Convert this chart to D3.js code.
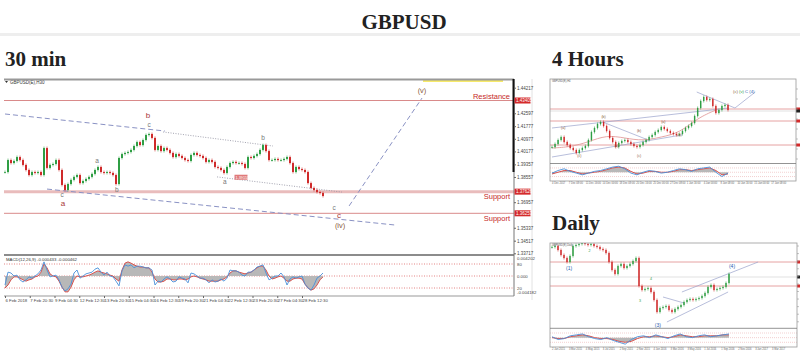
<!DOCTYPE html>
<html>
<head>
<meta charset="utf-8">
<script src="https://cdn.jsdelivr.net/npm/d3@7"></script>
<style>
  body { margin: 0; background: #fff; }
  svg { display: block; }
</style>
</head>
<body>
<div id="chart"></div>
<script>
// ---------- data ----------
var pageTitle = "GBPUSD";
var panelTitles = ["30 min", "4 Hours", "Daily"];

// 30 min chart: closing prices (one candle per sample, left to right)
var closes30 = [1.3887,1.3963,1.3944,1.3957,1.3982,1.3963,1.3932,1.3900,1.3868,1.3887,
  1.3881,1.3887,1.3868,1.4039,1.3913,1.3932,1.3938,1.3963,1.3900,1.3805,
  1.3773,1.3811,1.3837,1.3856,1.3868,1.3817,1.3830,1.3843,1.3856,1.3875,
  1.3900,1.3919,1.3887,1.3881,1.3887,1.3881,1.3868,1.3811,1.3976,1.4001,
  1.4008,1.4014,1.4027,1.4052,1.4077,1.4058,1.4090,1.4122,1.4128,1.4103,
  1.4027,1.4052,1.4020,1.4039,1.4027,1.4008,1.3982,1.4001,1.3989,1.3976,
  1.3963,1.3957,1.3995,1.4008,1.3995,1.3989,1.3976,1.3951,1.3963,1.3951,
  1.3919,1.3913,1.3900,1.3881,1.3919,1.3944,1.3951,1.3944,1.3944,1.3938,
  1.3913,1.3982,1.3976,1.3989,1.4001,1.4027,1.4058,1.4020,1.3963,1.3963,
  1.3970,1.3963,1.3963,1.3970,1.3982,1.3944,1.3887,1.3919,1.3906,1.3900,
  1.3887,1.3817,1.3786,1.3773,1.3760,1.3754,1.3735];

// 30 min MACD main line and signal line
var macd30 = [-0.0021,0.0009,0.0007,0,0.0002,-0.0009,-0.0014,-0.0009,-0.0002,-0.0005,
  0,0.0005,0.0014,0.0033,0.0014,-0.0002,0,0.0002,-0.0009,-0.0026,
  -0.0035,-0.0030,-0.0019,0.0007,0.0014,-0.0005,0,0.0005,0.0007,0.0009,
  0.0016,0.0019,0.0009,0.0002,0.0009,0,-0.0002,-0.0012,-0.0023,0.0012,
  0.0026,0.0023,0.0026,0.0019,0.0023,0.0023,0.0021,0.0019,0.0019,0.0014,
  -0.0021,-0.0012,-0.0014,-0.0007,-0.0002,-0.0007,-0.0014,-0.0012,-0.0002,-0.0005,
  -0.0007,-0.0016,0.0007,0.0005,0,-0.0005,-0.0005,-0.0009,-0.0016,-0.0009,
  -0.0014,-0.0012,-0.0007,-0.0012,-0.0005,0.0014,0.0012,0.0012,0.0009,0.0002,
  0,0.0009,0.0009,0.0014,0.0021,0.0023,0.0026,0.0007,-0.0009,-0.0005,
  0,0,0.0007,-0.0002,-0.0021,-0.0007,-0.0002,-0.0005,-0.0002,0,
  -0.0019,-0.0028,-0.0033,-0.0021,-0.0005,0,0.0007];
var signal30 = [-0.0028,-0.0021,-0.0009,-0.0002,-0.0002,-0.0005,-0.0009,-0.0012,-0.0009,-0.0007,
  -0.0002,0,0.0009,0.0028,0.0019,0.0005,0,-0.0002,-0.0012,-0.0026,
  -0.0037,-0.0037,-0.0026,-0.0009,0,-0.0002,-0.0002,0,0.0002,0.0005,
  0.0009,0.0012,0.0009,0.0007,0.0005,0.0002,0,-0.0007,-0.0012,0.0014,
  0.0030,0.0033,0.0030,0.0026,0.0023,0.0021,0.0021,0.0019,0.0019,0.0009,
  -0.0007,-0.0014,-0.0014,-0.0012,-0.0007,-0.0007,-0.0009,-0.0009,-0.0007,-0.0007,
  -0.0009,-0.0007,-0.0002,0,-0.0002,-0.0005,-0.0007,-0.0009,-0.0012,-0.0012,
  -0.0012,-0.0012,-0.0009,-0.0007,-0.0002,0.0007,0.0012,0.0012,0.0009,0.0007,
  0.0005,0.0007,0.0009,0.0014,0.0019,0.0023,0.0023,0.0014,0,-0.0007,
  -0.0005,-0.0002,0,-0.0005,-0.0012,-0.0012,-0.0007,-0.0005,-0.0005,-0.0007,
  -0.0019,-0.0028,-0.0033,-0.0030,-0.0021,-0.0009,-0.0002];

var priceTicks30 = [1.44217,1.42597,1.41777,1.40977,1.40177,1.39357,1.38557,1.36957,1.35337,1.34517,1.33717];
var levels30 = [1.43405, 1.37626, 1.36253];
var levelNames30 = ["Resistance", "Support", "Support"];
var macdTicks30 = ["0.004202", "80", "0.000", "20", "-0.004182"];
var macdTickValues30 = [0.0042, 0.0028, 0, -0.0028, -0.0038];
var timeLabels30 = ["6 Feb 2018","7 Feb 20:30","9 Feb 04:30","12 Feb 12:30","13 Feb 20:30",
  "15 Feb 04:30","16 Feb 12:30","19 Feb 20:30","21 Feb 04:30","22 Feb 12:30",
  "23 Feb 20:30","27 Feb 04:30","28 Feb 12:30"];
var candlesPerLabel30 = 8.25;

// wave lines on 30 min chart: [candle index, price]
var channelUpper30 = [[0, 1.4255], [53.3, 1.4147]];
var channelLower30 = [[14, 1.3779], [130, 1.3551]];
var dottedUpper30 = [[52.7, 1.4141], [89.3, 1.4052]];
var dottedLower30 = [[70.7, 1.3856], [112.3, 1.3760]];
var projection30 = [[114.7, 1.3672], [139, 1.4356]];

// wave labels: [candle index, price, text]
var majorLabels30 = [[47.7, 1.4245, "b"], [19.3, 1.3685, "a"], [111.3, 1.3612, "c"]];
var minorLabels30 = [[48, 1.4188, "c"], [30.7, 1.3957, "a"], [37.3, 1.3773, "b"], [19, 1.3742, "c"],
  [86, 1.4103, "b"], [73.3, 1.3824, "a"], [109.7, 1.3662, "c"]];
var degreeLabels30 = [[139, 1.4407, "(v)"], [111.7, 1.3548, "(iv)"]];
var priceTag30 = [76.5, 1.3854, "1.39153"];

// 4 hour chart
var closes4h = [1.352,1.355,1.359,1.362,1.357,1.354,1.351,1.349,1.346,1.349,
  1.351,1.353,1.359,1.367,1.371,1.375,1.377,1.373,1.368,1.361,
  1.357,1.352,1.356,1.358,1.359,1.357,1.355,1.353,1.352,1.354,
  1.357,1.359,1.362,1.364,1.367,1.369,1.372,1.370,1.368,1.366,
  1.365,1.364,1.365,1.368,1.371,1.373,1.376,1.383,1.391,1.398,
  1.402,1.399,1.400,1.393,1.386,1.389,1.393,1.394,1.389];
var ma4h = [1.351,1.352,1.357,1.364,1.361,1.358,1.362,1.366,1.381,1.389]; // every 6th candle
var macd4h = [-0.001,0.002,0.004,0.001,-0.001,-0.003,-0.001,0.001,0.002,0.004,0.006,0.007,0.004,-0.001,-0.003,
  0,0.002,0.001,-0.001,0,0.002,0.004,0.003,0.001,0.004,0.005,0.006,0,-0.005,-0.001];
var signal4h = [-0.002,0,0.002,0.002,0,-0.002,-0.001,0,0.001,0.003,0.005,0.006,0.005,0.001,-0.002,
  -0.001,0.001,0.001,0,0,0.001,0.003,0.003,0.002,0.003,0.004,0.005,0.002,-0.003,-0.002];
var levels4h = [1.390, 1.378, 1.354];
var lines4h = [[[0, 1.371], [58.3, 1.391]], [[0, 1.342], [42.7, 1.364]], [[16.7, 1.377], [31.7, 1.359]],
  [[47.7, 1.407], [60.3, 1.391]], [[60.3, 1.391], [67, 1.407]]];
var labels4h = [[3.7, 1.370, "(a)"], [17, 1.381, "(b)"], [9, 1.342, "(c)"], [21.3, 1.352, "(a)"],
  [28.7, 1.367, "(b)"], [28.7, 1.342, "(c)"], [36.7, 1.376, "(a)"], [42, 1.363, "(b)"]];
var timeLabels4h = ["4 Dec 2017","7 Dec 08:00","11 Dec 16:00","14 Dec 00:00","18 Dec 08:00","20 Dec 16:00",
  "25 Dec 00:00","27 Dec 08:00","1 Jan 16:00","4 Jan 00:00","8 Jan 08:00","10 Jan 16:00","15 Jan 00:00","17 Jan 08:00"];

// daily chart
var closesD = [1.6936,1.7002,1.6738,1.6408,1.6210,1.5946,1.6342,1.7002,1.7068,1.7134,
  1.7200,1.7134,1.7068,1.7134,1.7002,1.6936,1.6804,1.6738,1.6540,1.5946,
  1.5418,1.5154,1.5682,1.5814,1.5550,1.5682,1.5814,1.6012,1.6210,1.4362,
  1.4098,1.4164,1.4230,1.3966,1.3438,1.2646,1.2910,1.2976,1.3042,1.2778,
  1.2646,1.2844,1.2976,1.3108,1.3306,1.3438,1.3504,1.3438,1.3504,1.3570,
  1.3702,1.3900,1.4296,1.4428,1.4098,1.4164,1.4230,1.4296,1.4560,1.5154];
var macdD = [0.001,-0.002,-0.001,0.002,0.003,0.004,0.001,-0.001,-0.002,0,-0.003,-0.005,-0.007,-0.002,0.001,
  0.002,0,0.003,0.001,-0.001,0.002,0.004,0.001,0,0.002,0.003,0.001,0.002,0.003,0.004];
var signalD = [0,-0.001,-0.001,0.001,0.002,0.003,0.002,0,-0.001,-0.001,-0.002,-0.004,-0.005,-0.004,-0.001,
  0.001,0.001,0.002,0.001,0,0.001,0.003,0.002,0.001,0.001,0.002,0.002,0.002,0.003,0.003];
var levelsD = [1.5946, 1.4362];
var linesD = [[[43.3, 1.3966], [68.7, 1.5946]], [[38.3, 1.1986], [58.7, 1.3966]], [[37, 1.3636], [44, 1.3240]]];
var labelsD = [[5.7, 1.5418, "(1)"], [35.3, 1.1656, "(3)"], [60, 1.5550, "(4)"]];
var smallLabelsD = [[33, 1.4758, "4"], [29.3, 1.3306, "3"], [12.5, 1.6600, "2"]];
var timeLabelsD = ["2 Jan 2015","3 Mar 2015","4 May 2015","3 Jul 2015","2 Sep 2015","2 Nov 2015","4 Jan 2016",
  "3 Mar 2016","3 May 2016","1 Jul 2016","1 Sep 2016","2 Nov 2016","3 Jan 2017","3 Mar 2017"];

// ---------- page ----------
var svg = d3.select("#chart")
  .append("svg")
    .attr("width", 800)
    .attr("height", 355)
    .style("font-family", "'Liberation Sans', Arial, sans-serif");

var serif = "'Liberation Serif', 'Times New Roman', serif";

svg.append("rect").attr("x", 0).attr("y", 33).attr("width", 800).attr("height", 3).attr("fill", "#eeeeee");
svg.append("text").attr("x", 404).attr("y", 29).attr("text-anchor", "middle")
  .style("font-family", serif).style("font-weight", "bold").style("font-size", "21px").attr("fill", "#222")
  .text(pageTitle);
[[5, 66], [552, 66], [552, 230]].forEach(function(p, i) {
  svg.append("text").attr("x", p[0]).attr("y", p[1])
    .style("font-family", serif).style("font-weight", "bold").style("font-size", "21px").attr("fill", "#222")
    .text(panelTitles[i]);
});

// draws simple candles: open = previous close
function drawCandles(g, data, x, y, bw) {
  g.selectAll(null).data(data).enter().append("g").each(function(c, i) {
    var o = i > 0 ? data[i - 1] : c;
    var hi = Math.max(o, c), lo = Math.min(o, c);
    var col = c >= o ? "#2f9e44" : "#cf2a2a";
    var s = d3.select(this);
    s.append("line")
      .attr("x1", x(i)).attr("x2", x(i))
      .attr("y1", y(hi) - 1.5).attr("y2", y(lo) + 1.5)
      .attr("stroke", col).attr("stroke-width", 0.6);
    s.append("rect")
      .attr("x", x(i) - bw / 2).attr("width", bw)
      .attr("y", y(hi)).attr("height", Math.max(0.8, y(lo) - y(hi)))
      .attr("fill", col);
  });
}

function drawSegment(g, pts, x, y, color, dash, w) {
  g.append("line")
    .attr("x1", x(pts[0][0])).attr("y1", y(pts[0][1]))
    .attr("x2", x(pts[1][0])).attr("y2", y(pts[1][1]))
    .attr("stroke", color).attr("stroke-width", w || 1)
    .attr("stroke-dasharray", dash);
}

function drawMacd(g, main, signal, x, y, fillArea) {
  if (fillArea) {
    g.append("path").datum(signal)
      .attr("fill", "#b8b8b8")
      .attr("d", d3.area().x(function(d, i) { return x(i); }).y0(y(0)).y1(function(d) { return y(d); }));
  }
  g.append("path").datum(signal)
    .attr("fill", "none").attr("stroke", "#d9534f").attr("stroke-width", 1)
    .attr("d", d3.line().x(function(d, i) { return x(i); }).y(function(d) { return y(d); }));
  g.append("path").datum(main)
    .attr("fill", "none").attr("stroke", "#4a90d9").attr("stroke-width", 0.9)
    .attr("d", d3.line().x(function(d, i) { return x(i); }).y(function(d) { return y(d); }));
}

// ---------- 30 min chart ----------
var x30 = d3.scaleLinear().domain([0, 106]).range([5, 323]);
var y30 = d3.scaleLinear().domain([1.44217, 1.33717]).range([87.7, 253.3]);
var m30 = d3.scaleLinear().domain([0.0042, -0.0042]).range([258, 294]);

svg.append("clipPath").attr("id", "clip30")
  .append("rect").attr("x", 4).attr("y", 80).attr("width", 510).attr("height", 174);
var g30 = svg.append("g").attr("clip-path", "url(#clip30)");

// horizontal levels
var levelColors = ["#d98a8a", "#e9bcbc", "#d98a8a"];
var levelWidths = [1, 3, 1];
levels30.forEach(function(l, i) {
  g30.append("line").attr("x1", 4).attr("x2", 514).attr("y1", y30(l)).attr("y2", y30(l))
    .attr("stroke", levelColors[i]).attr("stroke-width", levelWidths[i]);
  svg.append("text").attr("x", 510).attr("y", i === 0 ? y30(l) - 2 : y30(l) + 7.5)
    .attr("text-anchor", "end").style("font-size", "7.5px").attr("fill", "#c62828")
    .text(levelNames30[i]);
});

// wave lines
drawSegment(g30, channelUpper30, x30, y30, "#8a92c4", "5,3", 1);
drawSegment(g30, channelLower30, x30, y30, "#8a92c4", "5,3", 1);
drawSegment(g30, dottedUpper30, x30, y30, "#8c8c9c", "1,1.5", 0.8);
drawSegment(g30, dottedLower30, x30, y30, "#8c8c9c", "1,1.5", 0.8);
drawSegment(g30, projection30, x30, y30, "#8a92c4", "5,3", 1);

drawCandles(g30, closes30, x30, y30, 2);

// price tag on chart
g30.append("rect").attr("x", x30(priceTag30[0])).attr("y", y30(priceTag30[1]) - 2.5)
  .attr("width", 13).attr("height", 5).attr("fill", "#e07a7a");
g30.append("text").attr("x", x30(priceTag30[0]) + 1).attr("y", y30(priceTag30[1]) + 1.5)
  .style("font-size", "3.8px").attr("fill", "#fff").text(priceTag30[2]);

// wave labels
majorLabels30.forEach(function(d) {
  svg.append("text").attr("x", x30(d[0])).attr("y", y30(d[1]) + 2.5).attr("text-anchor", "middle")
    .style("font-size", "8px").attr("fill", "#a83a3a").text(d[2]);
});
minorLabels30.forEach(function(d) {
  svg.append("text").attr("x", x30(d[0])).attr("y", y30(d[1]) + 2).attr("text-anchor", "middle")
    .style("font-size", "6.5px").attr("fill", "#777").text(d[2]);
});
degreeLabels30.forEach(function(d) {
  svg.append("text").attr("x", x30(d[0])).attr("y", y30(d[1]) + 3).attr("text-anchor", "middle")
    .style("font-size", "7.5px").attr("fill", "#8a5a3a").text(d[2]);
});

// chart label + yellow marker line
svg.append("path").attr("d", "M5,81 L8,81 L6.5,83 Z").attr("fill", "#333");
svg.append("text").attr("x", 10).attr("y", 83.5).style("font-size", "4.5px").attr("fill", "#333").text("GBPUSD(E),H30");
svg.append("line").attr("x1", 423).attr("x2", 503).attr("y1", 81).attr("y2", 81)
  .attr("stroke", "#f5e33a").attr("stroke-width", 1.5);

// frame
svg.append("line").attr("x1", 4).attr("x2", 514).attr("y1", 79.5).attr("y2", 79.5).attr("stroke", "#999").attr("stroke-width", 2);
svg.append("line").attr("x1", 4).attr("x2", 514).attr("y1", 255).attr("y2", 255).attr("stroke", "#666").attr("stroke-width", 1.5);
svg.append("line").attr("x1", 4).attr("x2", 514).attr("y1", 296).attr("y2", 296).attr("stroke", "#999").attr("stroke-width", 1);
svg.append("line").attr("x1", 514).attr("x2", 514).attr("y1", 79).attr("y2", 296).attr("stroke", "#777").attr("stroke-width", 1);
svg.append("line").attr("x1", 513.5).attr("x2", 513.5).attr("y1", 79).attr("y2", 172).attr("stroke", "#111").attr("stroke-width", 2);
svg.append("line").attr("x1", 532).attr("x2", 532).attr("y1", 79).attr("y2", 300).attr("stroke", "#e2e2e2").attr("stroke-width", 1);

// right price axis
var yAxis30 = svg.append("g").attr("transform", "translate(514,0)")
  .call(d3.axisRight(y30).tickValues(priceTicks30).tickSize(2).tickFormat(d3.format(".5f")));
yAxis30.select(".domain").remove();
yAxis30.selectAll("text").attr("x", 3).style("font-size", "4.5px").attr("fill", "#444");
yAxis30.selectAll("line").attr("stroke", "#666");

levels30.forEach(function(l) {
  svg.append("rect").attr("x", 514.5).attr("y", y30(l) - 3).attr("width", 16).attr("height", 6).attr("fill", "#d42a2a");
  svg.append("text").attr("x", 516).attr("y", y30(l) + 1.6).style("font-size", "4.5px").attr("fill", "#fff")
    .text(d3.format(".5f")(l));
});

// MACD panel
var gm30 = svg.append("g");
[0.0028, 0, -0.0028].forEach(function(v) {
  gm30.append("line").attr("x1", 4).attr("x2", 514).attr("y1", m30(v)).attr("y2", m30(v))
    .attr("stroke", "#d66").attr("stroke-width", 0.8).attr("stroke-dasharray", "1,1.5");
});
drawMacd(gm30, macd30, signal30, x30, m30, true);
svg.append("text").attr("x", 6).attr("y", 261).style("font-size", "4.3px").attr("fill", "#333")
  .text("MACD(12,26,9) -0.000433 -0.000462");
macdTicks30.forEach(function(t, i) {
  svg.append("text").attr("x", 517).attr("y", m30(macdTickValues30[i]) + 1.5)
    .style("font-size", "4.3px").attr("fill", "#444").text(t);
});

// time axis
var xAxis30 = svg.append("g").attr("transform", "translate(0,296)")
  .call(d3.axisBottom(x30)
    .tickValues(timeLabels30.map(function(t, k) { return k * candlesPerLabel30; }))
    .tickSize(2)
    .tickFormat(function(d, k) { return timeLabels30[k]; }));
xAxis30.select(".domain").remove();
xAxis30.selectAll("line").attr("stroke", "#666");
xAxis30.selectAll("text").attr("text-anchor", "start").attr("y", 3).style("font-size", "4.3px").attr("fill", "#444");

// ---------- thumbnails ----------
function thumb(opt) {
  var g = svg.append("g");
  var clipId = "clip" + opt.id;
  svg.append("clipPath").attr("id", clipId)
    .append("rect").attr("x", opt.left).attr("y", opt.top).attr("width", opt.right - opt.left).attr("height", opt.split - opt.top);
  var gp = g.append("g").attr("clip-path", "url(#" + clipId + ")");

  opt.levels.forEach(function(l) {
    gp.append("line").attr("x1", opt.left).attr("x2", opt.right).attr("y1", opt.y(l)).attr("y2", opt.y(l))
      .attr("stroke", "#e08a8a").attr("stroke-width", 0.8);
    g.append("rect").attr("x", opt.right).attr("y", opt.y(l) - 1.5).attr("width", 5).attr("height", 3).attr("fill", "#d42a2a");
  });
  gp.append("line").attr("x1", opt.left).attr("x2", opt.right).attr("y1", opt.y(opt.current)).attr("y2", opt.y(opt.current))
    .attr("stroke", "#ccc").attr("stroke-width", 0.6);
  g.append("rect").attr("x", opt.right).attr("y", opt.y(opt.current) - 1.5).attr("width", 5).attr("height", 3).attr("fill", "#222");

  opt.lines.forEach(function(p) { drawSegment(gp, p, opt.x, opt.y, "#9aa2cc", null, 0.7); });
  if (opt.ma) {
    gp.append("path").datum(opt.ma).attr("fill", "none").attr("stroke", "#e09090").attr("stroke-width", 0.8)
      .attr("d", d3.line().curve(d3.curveBasis).x(function(d, i) { return opt.x(i * 6); }).y(function(d) { return opt.y(d); }));
  }
  drawCandles(gp, opt.closes, opt.x, opt.y, 1.4);

  // MACD strip
  var xm = d3.scaleLinear().domain([0, opt.macd.length - 1]).range(opt.x.range());
  var ym = d3.scaleLinear().domain([0.009, -0.009]).range([opt.split + 1, opt.bottom - 1]);
  [0.005, 0, -0.005].forEach(function(v) {
    g.append("line").attr("x1", opt.left).attr("x2", opt.right).attr("y1", ym(v)).attr("y2", ym(v))
      .attr("stroke", "#e6a0a0").attr("stroke-width", 0.5).attr("stroke-dasharray", "1,1");
  });
  drawMacd(g, opt.macd, opt.signal, xm, ym, true);

  // frame
  g.append("rect").attr("x", opt.left).attr("y", opt.top).attr("width", opt.right - opt.left).attr("height", opt.bottom - opt.top)
    .attr("fill", "none").attr("stroke", "#999").attr("stroke-width", 0.8);
  g.append("line").attr("x1", opt.left).attr("x2", opt.right).attr("y1", opt.split).attr("y2", opt.split)
    .attr("stroke", "#777").attr("stroke-width", 0.8);
  g.append("text").attr("x", opt.left + 2).attr("y", opt.top + 3).style("font-size", "2.6px").attr("fill", "#555").text(opt.name);

  // time labels
  var step = (opt.right - opt.left - 10) / opt.times.length;
  var xt = d3.scalePoint().domain(opt.times).range([opt.left + 2, opt.left + 2 + step * (opt.times.length - 1)]);
  opt.times.forEach(function(t) {
    g.append("text").attr("x", xt(t)).attr("y", opt.bottom + 2.5).style("font-size", "2.6px").attr("fill", "#666").text(t);
  });
  // right axis tick marks (labels fall outside the window)
  opt.y.ticks(10).forEach(function(v) {
    if (opt.y(v) < opt.top + 2 || opt.y(v) > opt.split - 2) return;
    g.append("line").attr("x1", opt.right).attr("x2", opt.right + 2).attr("y1", opt.y(v)).attr("y2", opt.y(v))
      .attr("stroke", "#888").attr("stroke-width", 0.5);
  });
  return gp;
}

var x4h = d3.scaleLinear().domain([0, 58]).range([552, 728]);
var y4h = d3.scaleLinear().domain([1.42, 1.336]).range([79, 163]);
var g4h = thumb({ id: "4h", name: "GBPUSD(E),H4", left: 550, right: 796, top: 79, split: 163.5, bottom: 181,
  x: x4h, y: y4h, closes: closes4h, ma: ma4h, macd: macd4h, signal: signal4h,
  levels: levels4h, current: 1.388, lines: lines4h, times: timeLabels4h });
labels4h.forEach(function(d) {
  g4h.append("text").attr("x", x4h(d[0])).attr("y", y4h(d[1])).attr("text-anchor", "middle")
    .style("font-size", "3.6px").attr("fill", "#8a5a3a").text(d[2]);
});
var waveTag = svg.append("text").attr("x", 733).attr("y", 93).style("font-size", "4.2px");
waveTag.append("tspan").attr("fill", "#8a5a3a").text("(c) ");
waveTag.append("tspan").attr("fill", "#2f9e44").text("(v) ");
waveTag.append("tspan").attr("fill", "#2a5db0").text("C (4)");

var xD = d3.scaleLinear().domain([0, 59]).range([552, 729]);
var yD = d3.scaleLinear().domain([1.72, 1.159]).range([243, 328]);
var gD = thumb({ id: "d", name: "GBPUSD(E),Daily", left: 550, right: 797, top: 243, split: 328.3, bottom: 347,
  x: xD, y: yD, closes: closesD, ma: null, macd: macdD, signal: signalD,
  levels: levelsD, current: 1.4956, lines: linesD, times: timeLabelsD });
labelsD.forEach(function(d) {
  gD.append("text").attr("x", xD(d[0])).attr("y", yD(d[1])).attr("text-anchor", "middle")
    .style("font-size", "5px").attr("fill", "#2a5db0").text(d[2]);
});
smallLabelsD.forEach(function(d) {
  gD.append("text").attr("x", xD(d[0])).attr("y", yD(d[1])).attr("text-anchor", "middle")
    .style("font-size", "3.6px").attr("fill", "#2f9e44").text(d[2]);
});
</script>
</body>
</html>
